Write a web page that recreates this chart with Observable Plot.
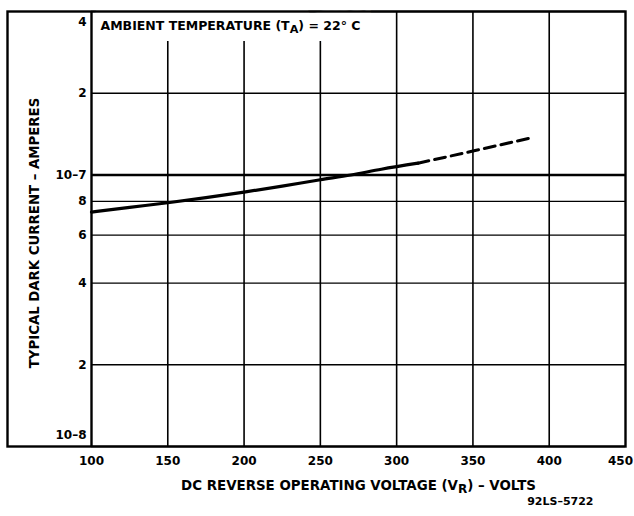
<!DOCTYPE html>
<html><head><meta charset="utf-8">
<script src="https://cdn.jsdelivr.net/npm/d3@7"></script>
<script src="https://cdn.jsdelivr.net/npm/@observablehq/plot@0.6"></script>
<style>body{margin:0;background:#fff} svg{display:block}</style>
</head><body><div id="chart"></div>
<script>
// Data
const solidVoltage = [100, 125, 150, 175, 200, 225, 250, 270, 290, 314];
const solidCurrent = [7.3e-8, 7.6e-8, 7.9e-8, 8.25e-8, 8.65e-8, 9.1e-8, 9.6e-8, 1.0e-7, 1.05e-7, 1.105e-7];
const dashedVoltage = [314, 350, 388];
const dashedCurrent = [1.105e-7, 1.225e-7, 1.37e-7];
const xTicks = [100, 150, 200, 250, 300, 350, 400, 450];
const yGrid = [1e-8, 2e-8, 4e-8, 6e-8, 8e-8, 1e-7, 2e-7, 4e-7];
const yLabels = ["10–8", "2", "4", "6", "8", "10–7", "2", "4"];
const titleText = "AMBIENT TEMPERATURE (TA) = 22° C";
const xTitle = "DC REVERSE OPERATING VOLTAGE (VR) – VOLTS";
const yTitle = "TYPICAL DARK CURRENT – AMPERES";
const codeText = "92LS–5722";

const solid = solidVoltage.map((v, i) => ({v, c: solidCurrent[i]}));
const dashed = dashedVoltage.map((v, i) => ({v, c: dashedCurrent[i]}));
const yFmt = d => yLabels[yGrid.indexOf(d)];
const font = "DejaVu Sans, Liberation Sans, Arial, sans-serif";

const chart = Plot.plot({
  width: 634,
  height: 516,
  marginLeft: 91,
  marginRight: 9,
  marginTop: 11,
  marginBottom: 70,
  style: {fontFamily: font, fontWeight: "bold", fontSize: "12px", color: "#000", background: "#fff"},
  x: {domain: [100, 450]},
  y: {type: "log", domain: [1e-8, 4e-7]},
  marks: [
    Plot.ruleX(xTicks.slice(1, -1), {stroke: "#000", strokeWidth: 1.6}),
    Plot.ruleY(yGrid.filter(d => d !== 1e-7), {stroke: "#000", strokeWidth: 1.3}),
    Plot.ruleY([1e-7], {stroke: "#000", strokeWidth: 2.6}),
    Plot.line(solid, {x: "v", y: "c", stroke: "#000", strokeWidth: 3.2, curve: "monotone-x"}),
    Plot.line(dashed, {x: "v", y: "c", stroke: "#000", strokeWidth: 3, strokeDasharray: "11,6", curve: "monotone-x"}),
    // white halo under the title (blanks the grid behind it)
    Plot.text([titleText], {frameAnchor: "top-left", dx: 9, dy: 10, textAnchor: "start", fontSize: 12.5, fontWeight: "bold", fill: "#fff", stroke: "#fff", strokeWidth: 22, strokeLinejoin: "miter"}),
    Plot.text([titleText], {frameAnchor: "top-left", dx: 9, dy: 10, textAnchor: "start", fontSize: 12.5, fontWeight: "bold", fill: "#000"}),
    Plot.ruleX([100], {stroke: "#000", strokeWidth: 2.4}),
    Plot.frame({stroke: "#000", strokeWidth: 2.4, insetLeft: -84}),
    Plot.axisX(xTicks.slice(0, -1), {tickSize: 0, tickPadding: 10, fontSize: 12, fontWeight: "bold", label: null}),
    Plot.axisX(xTicks.slice(-1), {tickSize: 0, tickPadding: 10, fontSize: 12, fontWeight: "bold", label: null, dx: -5}),
    Plot.axisY(yGrid.slice(1, -1), {tickSize: 0, tickPadding: 5, tickFormat: yFmt, fontSize: 12, fontWeight: "bold", label: null}),
    Plot.axisY([4e-7], {tickSize: 0, tickPadding: 5, tickFormat: yFmt, fontSize: 12, fontWeight: "bold", label: null, dy: 11}),
    Plot.axisY([1e-8], {tickSize: 0, tickPadding: 5, tickFormat: yFmt, fontSize: 12, fontWeight: "bold", label: null, dy: -11}),
    Plot.text([xTitle], {frameAnchor: "bottom", dy: 43, fontSize: 13.4, fontWeight: "bold", fill: "#000"}),
    Plot.text([yTitle], {frameAnchor: "left", textAnchor: "middle", dx: -57, dy: 4, rotate: -90, fontSize: 13.3, fontWeight: "bold", fill: "#000"}),
    Plot.text([codeText], {frameAnchor: "bottom-right", dx: -32, dy: 58, textAnchor: "end", fontSize: 11, fontWeight: "bold", fill: "#000"})
  ]
});

// subscripts for T_A and V_R
d3.select(chart).selectAll("text").each(function() {
  const t = this.textContent;
  const m = t.match(/\((T|V)(A|R)\)/);
  if (!m) return;
  const before = t.slice(0, m.index), after = t.slice(m.index + m[0].length);
  const inner = this.querySelector("tspan");
  const tgt = inner ? d3.select(inner) : d3.select(this);
  tgt.text(null);
  tgt.append("tspan").text(before + "(" + m[1]);
  tgt.append("tspan").attr("dy", 3).attr("font-size", "0.9em").text(m[2]);
  tgt.append("tspan").attr("dy", -3).text(")" + after);
});

document.getElementById("chart").appendChild(chart);
</script>
</body></html>
